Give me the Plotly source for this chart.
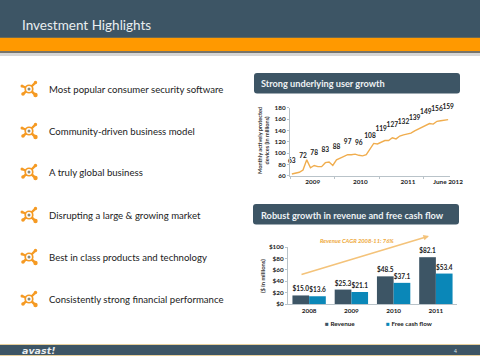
import plotly.graph_objects as go

W, H = 480, 360
title = "Investment Highlights"
bullets = ["Most popular consumer security software", "Community-driven business model",
           "A truly global business", "Disrupting a large & growing market",
           "Best in class products and technology", "Consistently strong financial performance"]
bullet_rows = [89, 131, 172, 215, 257, 299]

months = list(range(43))
users = [63, 64, 66, 70, 88, 74, 78, 76, 76, 83, 84, 78, 88, 91, 94, 97, 97, 98, 96, 95, 97,
         108, 117, 116, 119, 122, 122, 127, 125, 130, 132, 133, 135, 139, 142, 145, 149, 152,
         151, 156, 157, 158, 159]
label_months = [0, 3, 6, 9, 12, 15, 18, 21, 24, 27, 30, 33, 36, 39, 42]
label_users = [63, 72, 78, 83, 88, 97, 96, 108, 119, 127, 132, 139, 149, 156, 159]
line_tickvals = [5.6, 18.4, 31.2, 42]
line_ticktext = ["<b>2009</b>", "<b>2010</b>", "<b>2011</b>", "<b>June 2012</b>"]
user_ticks = [60, 80, 100, 120, 140, 160, 180]

years = ["2008", "2009", "2010", "2011"]
revenue = [15.0, 25.3, 48.5, 82.1]
fcf = [13.6, 21.1, 37.1, 53.4]
money_ticks = [0, 20, 40, 60, 80, 100]

NAVY, ORANGE, BLUE = "#3d5565", "#ff9900", "#0a87b8"
TXT = "Lato"

px = lambda x: x / W
py = lambda y: 1 - y / H

def rect(x0, y0, x1, y1, color):
    return dict(type="rect", xref="paper", yref="paper", x0=px(x0), x1=px(x1), y0=py(y0), y1=py(y1),
                fillcolor=color, line_width=0, layer="below")

def rounded(x0, y0, x1, y1, r, color):
    p = (f"M{px(x0+r)},{py(y0)} L{px(x1-r)},{py(y0)} Q{px(x1)},{py(y0)} {px(x1)},{py(y0+r)} "
         f"L{px(x1)},{py(y1-r)} Q{px(x1)},{py(y1)} {px(x1-r)},{py(y1)} L{px(x0+r)},{py(y1)} "
         f"Q{px(x0)},{py(y1)} {px(x0)},{py(y1-r)} L{px(x0)},{py(y0+r)} Q{px(x0)},{py(y0)} {px(x0+r)},{py(y0)} Z")
    return dict(type="path", xref="paper", yref="paper", path=p, fillcolor=color, line_width=0, layer="below")

def circle(cx, cy, r, color):
    return dict(type="circle", xref="paper", yref="paper", x0=px(cx-r), x1=px(cx+r), y0=py(cy+r), y1=py(cy-r),
                fillcolor=color, line=dict(width=0, color=color))

def seg(x0, y0, x1, y1, color, w):
    return dict(type="line", xref="paper", yref="paper", x0=px(x0), x1=px(x1), y0=py(y0), y1=py(y1),
                line=dict(color=color, width=w))

def icon(cx, cy):
    c = "#f59a23"
    out = []
    for dx, dy, r in [(6.5, -6.5, 1.7), (-7, -3, 1.5), (-6, 5, 1.8), (6.5, 6, 2.2)]:
        out.append(seg(cx, cy, cx + dx, cy + dy, c, 2.4))
        out.append(circle(cx + dx, cy + dy, r, c))
    out.append(circle(cx, cy, 4.6, c))
    out.append(circle(cx, cy, 2.9, "#ffffff"))
    out.append(circle(cx, cy, 1.5, "#8a8a7a"))
    return out

shapes = [
    rect(0, 0, W, H, "#ffffff"),
    rect(0, 0, W, 37, NAVY),
    rect(0, 37, W, 38, "#6b6a55"),
    rect(0, 38, W, 51, ORANGE),
    rect(0, 51, W, 53, "#77746a"),
    rect(0, 53, W, 56, "#d6d6d6"),
    rounded(254, 73, 460, 93.5, 3, NAVY),
    rounded(253, 204, 459, 224.5, 3, NAVY),
    rect(0, 344, W, 345, "#e6cf9c"),
    rect(0, 345, W, 355, NAVY),
    rect(0, 355, W, 356, "#e6cf9c"),
]
for r in bullet_rows:
    shapes += icon(29, r)

def note(x, y, text, size, color, anchor="left", **kw):
    return dict(xref="paper", yref="paper", x=px(x), y=py(y), text=text, showarrow=False, xanchor=anchor,
                yanchor="middle", font=dict(family=kw.pop("family", TXT), size=size, color=color), **kw)

anns = [note(20, 25, title, 13.5, "#e9eef0"),
        note(259, 83.5, "<b>Strong underlying user growth</b>", 9.2, "#eef2f4"),
        note(259, 215, "<b>Robust growth in revenue and free cash flow</b>", 9.2, "#eef2f4"),
        note(459, 351, "4", 5, "#dfe5e8", anchor="right"),
        note(20, 350.5, "<b><i>avast!</i></b>", 9.5, "#e8ecee", family="DejaVu Sans"),
        note(357, 240, "<b><i>Revenue CAGR 2008-11: 76%</i></b>", 5.8, "#eea83a", anchor="center"),
        note(263, 141, "<b>Monthly actively protected<br>devices (in millions)</b>", 5.6, "#333333", anchor="center", textangle=-90),
        note(262, 276, "<b>($ in millions)</b>", 5.8, "#333333", anchor="center", textangle=-90),
        note(323, 323, f"<span style='color:{NAVY}'>■</span> <b>Revenue</b>", 6.3, "#222222"),
        note(384, 323, f"<span style='color:{BLUE}'>■</span> <b>Free cash flow</b>", 6.3, "#222222"),
        dict(xref="paper", yref="paper", axref="pixel", ayref="pixel", x=px(429), y=py(236), ax=-129, ay=39,
             text="", showarrow=True, arrowhead=2, arrowsize=0.7, arrowwidth=1.6, arrowcolor="#f4c37a"),
        ]
for b, r in zip(bullets, bullet_rows):
    anns.append(note(47, r + 0.5, b, 9.6, "#222222"))

fig = go.Figure()
fig.add_trace(go.Scatter(x=months, y=users, mode="lines", line=dict(color="#f0ad4e", width=1.4),
                         showlegend=False, xaxis="x", yaxis="y"))
fig.add_trace(go.Scatter(x=label_months, y=label_users, mode="markers+text",
                         text=[f"<b>{v}</b>" for v in label_users],
                         textposition="top center", marker=dict(size=13, opacity=0), cliponaxis=False,
                         textfont=dict(family=TXT, size=6.6, color="#222222"), showlegend=False,
                         hoverinfo="skip", xaxis="x", yaxis="y"))
fig.add_trace(go.Bar(x=years, y=revenue, name="Revenue", marker=dict(color=NAVY, line_width=0),
                     text=[f"<b>${v:.1f}</b>" for v in revenue], textposition="outside", cliponaxis=False,
                     textfont=dict(family=TXT, size=6.8, color="#222222"), xaxis="x2", yaxis="y2"))
fig.add_trace(go.Bar(x=years, y=fcf, name="Free cash flow", marker=dict(color=BLUE, line_width=0),
                     text=[f"<b>${v:.1f}</b>" for v in fcf], textposition="outside", cliponaxis=False,
                     textfont=dict(family=TXT, size=6.8, color="#222222"), xaxis="x2", yaxis="y2"))

tick = dict(family=TXT, size=6.4, color="#222222")
axis_line = dict(showline=True, linecolor="#b9c3c9", linewidth=1, showgrid=False, zeroline=False)
fig.update_layout(
    width=W, height=H, margin=dict(l=0, r=0, t=0, b=0, autoexpand=False), paper_bgcolor="white",
    plot_bgcolor="rgba(0,0,0,0)",
    shapes=shapes, annotations=anns, barmode="group", bargap=0.21, bargroupgap=0, showlegend=False,
    xaxis=dict(domain=[px(290), px(450)], anchor="y", range=[-0.5, 42.5], tickmode="array",
               tickvals=line_tickvals, ticktext=line_ticktext, ticks="", tickfont=tick, ticklen=0,
               minor=dict(ticks="outside", tick0=-0.5, dtick=12, ticklen=2, tickcolor="#b9c3c9"), **axis_line),
    yaxis=dict(domain=[py(175.7), py(107.7)], anchor="x", range=[60, 180], tickvals=user_ticks,
               ticktext=[f"<b>{v}</b>" for v in user_ticks],
               tickfont=tick, ticks="outside", ticklen=2, tickcolor="#b9c3c9", **axis_line),
    xaxis2=dict(domain=[px(288), px(457)], anchor="y2", type="category", tickfont=tick, ticks="",
                tickvals=years, ticktext=[f"<b>{y}</b>" for y in years], **axis_line),
    yaxis2=dict(domain=[py(304), py(247)], anchor="x2", range=[0, 100], tickvals=money_ticks,
                ticktext=[f"<b>${v}</b>" for v in money_ticks],
                tickfont=tick, ticks="outside", ticklen=2, tickcolor="#b9c3c9", **axis_line),
)
reset_page = """
var g = document.querySelector('.plotly-graph-div');
g.style.position = 'fixed'; g.style.left = '0'; g.style.top = '0';
document.body.style.margin = '0';
document.body.style.height = '360px';
document.body.style.overflow = 'hidden';
document.documentElement.style.height = '360px';
document.documentElement.style.overflow = 'hidden';
"""
fig.write_html("out.html", config=dict(displayModeBar=False), post_script=reset_page)
